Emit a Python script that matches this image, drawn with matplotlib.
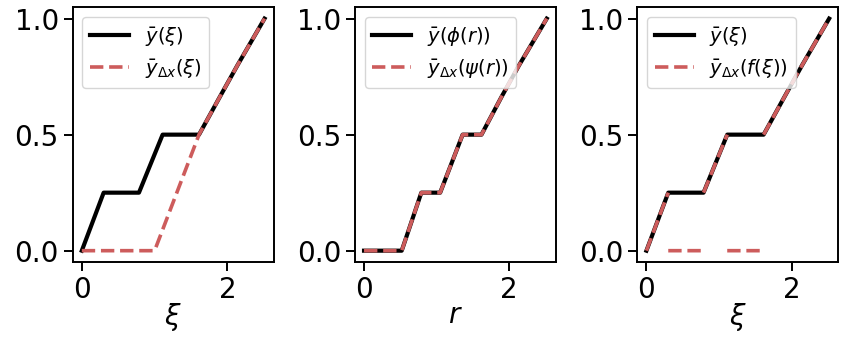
import numpy as np
import matplotlib
matplotlib.use("Agg")
import matplotlib.pyplot as plt

# data
xi = [0, 0.3, 0.785, 1.11, 1.61, 1.9, 2.14, 2.51]
y_xi = [0, 0.25, 0.25, 0.5, 0.5, 0.665, 0.8, 1.0]

xi_red1 = [0, 1.0, 1.61, 1.9, 2.14, 2.51]
y_red1 = [0, 0, 0.5, 0.665, 0.8, 1.0]

r = [0, 0.52, 0.79, 1.05, 1.36, 1.62, 1.9, 2.14, 2.52]
y_r = [0, 0, 0.25, 0.25, 0.5, 0.5, 0.665, 0.8, 1.0]

# third panel: piecewise pieces separated by gaps
xi_red3 = [0, 0.3, np.nan, 0.3, 0.785, np.nan, 0.785, 1.11, np.nan,
           1.11, 1.61, np.nan, 1.61, 1.9, 2.14, 2.51]
y_red3 = [0, 0.25, np.nan, 0, 0, np.nan, 0.25, 0.5, np.nan,
          0, 0, np.nan, 0.5, 0.665, 0.8, 1.0]

red = "indianred"
fs = 20

plt.rcParams['axes.linewidth'] = 1.4
plt.rcParams['xtick.major.size'] = 6.5
plt.rcParams['ytick.major.size'] = 6.5
plt.rcParams['xtick.major.width'] = 1.4
plt.rcParams['ytick.major.width'] = 1.4

fig = plt.figure(figsize=(8.47, 3.39), dpi=100)
lefts = [0.0858, 0.419, 0.7524]
axes = [fig.add_axes([l, 0.2263, 0.2373, 0.753]) for l in lefts]

panels = [
    (xi, y_xi, xi_red1, y_red1, r'$\bar{y}(\xi)$', r'$\bar{y}_{\Delta x}(\xi)$', r'$\xi$'),
    (r, y_r, r, y_r, r'$\bar{y}(\phi(r))$', r'$\bar{y}_{\Delta x}(\psi(r))$', r'$r$'),
    (xi, y_xi, xi_red3, y_red3, r'$\bar{y}(\xi)$', r'$\bar{y}_{\Delta x}(f(\xi))$', r'$\xi$'),
]

for ax, (xb, yb, xr, yr, lb, lr, xl) in zip(axes, panels):
    ax.plot(xb, yb, color='black', lw=3, label=lb)
    ax.plot(xr, yr, color=red, lw=2.6, ls='--', label=lr)
    ax.set_xticks([0, 2])
    ax.set_yticks([0, 0.5, 1.0])
    ax.tick_params(labelsize=fs)
    ax.set_xlabel(xl, fontsize=fs, labelpad=-2)
    ax.legend(loc='upper left', fontsize=14)

fig.savefig('out.png', dpi=100)
